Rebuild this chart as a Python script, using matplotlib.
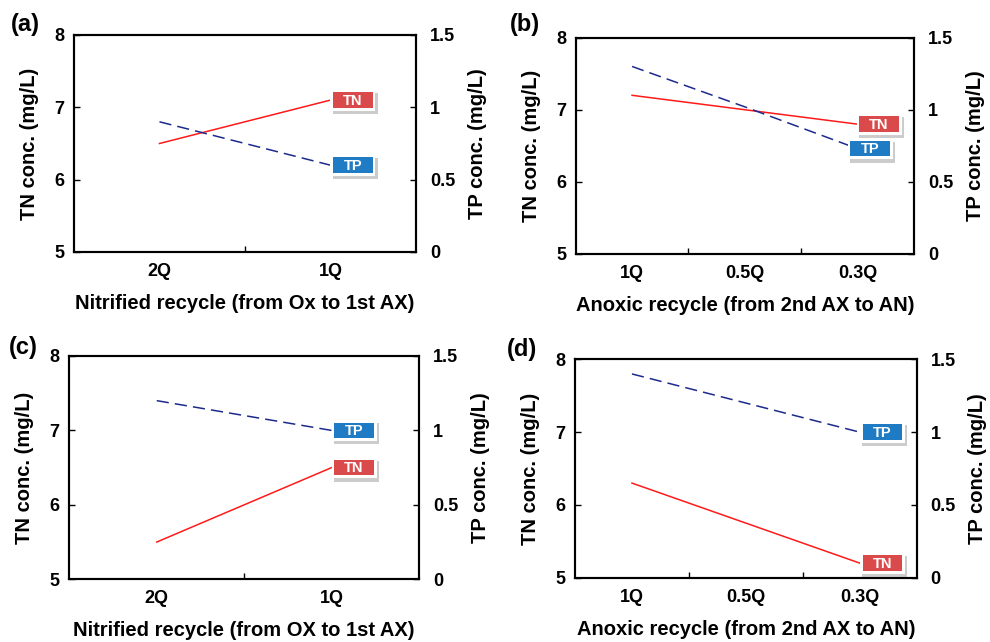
import matplotlib
matplotlib.use("Agg")
import matplotlib.pyplot as plt
import matplotlib.patheffects as pe
from matplotlib.patches import Rectangle
from matplotlib.transforms import ScaledTranslation
from matplotlib.ticker import FixedLocator, NullFormatter

plt.rcParams['font.family'] = ['Liberation Sans', 'DejaVu Sans']
plt.rcParams['font.weight'] = 'bold'

# data
cats_nitrified = ['2Q', '1Q']
cats_anoxic = ['1Q', '0.5Q', '0.3Q']

a_tn = [6.5, 7.1]
a_tp = [0.9, 0.6]
b_tn = [7.2, 7.0, 6.8]
b_tp = [1.3, 1.02, 0.73]
c_tn = [5.5, 6.5]
c_tp = [1.2, 1.0]
d_tn = [6.3, 5.75, 5.2]
d_tp = [1.4, 1.2, 1.0]

xlab_a = 'Nitrified recycle (from Ox to 1st AX)'
xlab_b = 'Anoxic recycle (from 2nd AX to AN)'
xlab_c = 'Nitrified recycle (from OX to 1st AX)'
xlab_d = 'Anoxic recycle (from 2nd AX to AN)'

RED = '#ff1a1a'
NAVY = '#1c2a8c'
TN_BOX = '#db4a4a'
TP_BOX = '#1f7cc4'

fig = plt.figure(figsize=(9.9, 6.42), dpi=100)


def tag(ax, x, y, text, color, dx):
    # box anchored at the line end, sized in inches (white rim + shadow)
    tr = fig.dpi_scale_trans + ScaledTranslation(x, y, ax.transData)
    W, H, rim = 0.45, 0.21, 0.028
    outer = Rectangle((dx, -H / 2), W, H, transform=tr, fc='white', ec='none', zorder=5)
    outer.set_path_effects([
        pe.SimplePatchShadow(offset=(1.5, -2.5), shadow_rgbFace='#9a9a9a', alpha=0.5),
        pe.Normal()])
    inner = Rectangle((dx + rim, -H / 2 + rim), W - 2 * rim, H - 2 * rim,
                      transform=tr, fc=color, ec='none', zorder=6)
    fig.add_artist(outer)
    fig.add_artist(inner)
    fig.text(dx + W / 2, -0.005, text, transform=tr, ha='center', va='center',
             fontsize=10.5, color='white', fontweight='bold', zorder=7)


def panel(rect, cats, tn, tp, xlabel, letter, letter_pos, dx_tn, dx_tp):
    ax = fig.add_axes(rect)
    n = len(cats)
    xs = list(range(n))
    ax.plot(xs, tn, color=RED, lw=1.1, zorder=3)
    ax.set_xlim(-0.5, n - 0.5)
    ax.set_ylim(5, 8)
    ax.set_yticks([5, 6, 7, 8])
    ax.set_xticks([i + 0.5 for i in range(n - 1)])
    ax.xaxis.set_major_formatter(NullFormatter())
    ax.xaxis.set_minor_locator(FixedLocator(xs))
    ax.set_xticklabels(cats, minor=True)
    ax.tick_params(axis='x', which='minor', length=0, pad=8, labelsize=13)
    ax.tick_params(axis='x', which='major', direction='in', length=4, width=1)
    ax.tick_params(axis='y', direction='in', length=4, width=1, labelsize=13, pad=7)
    ax.set_xlabel(xlabel, fontsize=14.5, fontweight='bold', labelpad=10)
    ax.set_ylabel('TN conc. (mg/L)', fontsize=14.5, fontweight='bold', labelpad=11)
    for s in ax.spines.values():
        s.set_linewidth(1.5)

    ax2 = ax.twinx()
    ax2.plot(xs, tp, color=NAVY, lw=1.1, dashes=(8, 4), zorder=3)
    ax2.set_ylim(0, 1.5)
    ax2.set_yticks([0, 0.5, 1, 1.5])
    ax2.set_yticklabels(['0', '0.5', '1', '1.5'])
    ax2.tick_params(axis='y', direction='in', length=4, width=1, labelsize=13, pad=10)
    ax2.set_ylabel('TP conc. (mg/L)', fontsize=14.5, fontweight='bold', labelpad=9)
    for s in ax2.spines.values():
        s.set_linewidth(1.5)

    tag(ax, xs[-1], tn[-1], 'TN', TN_BOX, dx_tn)
    tag(ax2, xs[-1], tp[-1], 'TP', TP_BOX, dx_tp)

    fig.text(letter_pos[0], letter_pos[1], letter, fontsize=17, fontweight='bold',
             ha='left', va='center')


panel([0.0747, 0.6075, 0.3455, 0.338], cats_nitrified, a_tn, a_tp, xlab_a,
      '(a)', (0.011, 0.962), 0.0, 0.0)
panel([0.5815, 0.6044, 0.3417, 0.337], cats_anoxic, b_tn, b_tp, xlab_b,
      '(b)', (0.515, 0.962), -0.01, -0.10)
panel([0.0700, 0.0977, 0.3532, 0.3478], cats_nitrified, c_tn, c_tp, xlab_c,
      '(c)', (0.009, 0.458), 0.0, 0.0)
panel([0.5808, 0.1002, 0.3452, 0.3400], cats_anoxic, d_tn, d_tp, xlab_d,
      '(d)', (0.512, 0.455), 0.0, 0.0)

fig.savefig('out.png', dpi=100)
